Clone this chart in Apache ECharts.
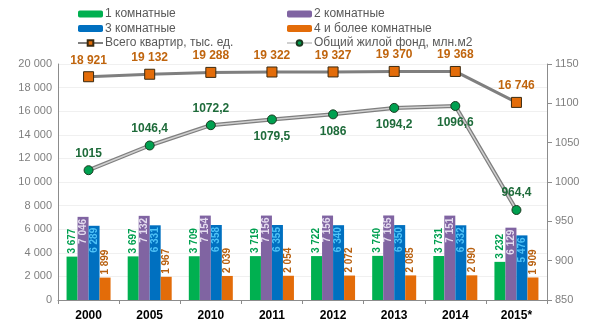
<!DOCTYPE html>
<html><head><meta charset="utf-8">
<script src="https://cdn.jsdelivr.net/npm/echarts@6/dist/echarts.min.js"></script>
<style>html,body{margin:0;padding:0;background:#fff}#c{width:609px;height:325px}</style>
</head><body><div id="c"></div>
<script>
var categories = ['2000','2005','2010','2011','2012','2013','2014','2015*'];
var rooms1 = [3677,3697,3709,3719,3722,3740,3731,3232];
var rooms2 = [7046,7132,7154,7156,7156,7165,7151,6129];
var rooms3 = [6289,6331,6358,6355,6340,6350,6332,5476];
var rooms4 = [1899,1967,2039,2054,2072,2085,2090,1909];
var totalFlats = [18921,19132,19288,19322,19327,19370,19368,16746];
var housingFund = [1015,1046.4,1072.2,1079.5,1086,1094.2,1096.6,964.4];
var fundLabelPos = ['top','top','top','bottom','bottom','bottom','bottom','top'];

function sp(v){ return String(v).replace(/\B(?=(\d{3})+(?!\d))/g,' '); }
function dec(v){ return String(v).replace('.',','); }

var font = 'Liberation Sans, Arial, sans-serif';
function barLabel(color, pos){
  return {show:true, rotate:90, position:pos, distance:pos==='top'?3:2, align: pos==='top'?'left':'right', verticalAlign:'middle',
    color:color, fontSize:10, fontWeight:'bold', fontFamily:font,
    formatter:function(p){return sp(p.value);}};
}
var chart = echarts.init(document.getElementById('c'), null, {renderer:'canvas'});
var fundData = housingFund.map(function(v,i){return {value:v, label:{position:fundLabelPos[i]}};});
chart.setOption({
  animation:false,
  textStyle:{fontFamily:font},
  legend:[
    {left:72, top:5, orient:'vertical', itemGap:2.5, itemWidth:25, itemHeight:7, padding:[3,5,3,5],
     textStyle:{color:'#595959', fontSize:12, padding:[0,0,0,-3]},
     data:['1 комнатные','3 комнатные','Всего квартир, тыс. ед.']},
    {left:281, top:5, orient:'vertical', itemGap:2.5, itemWidth:25, itemHeight:7, padding:[3,5,3,5],
     textStyle:{color:'#595959', fontSize:12, padding:[0,0,0,-3]},
     data:['2 комнатные','4 и более комнатные','Общий жилой фонд, млн.м2']}
  ],
  grid:{left:58, right:62, top:64, bottom:25},
  xAxis:{type:'category', data:categories,
    axisLine:{lineStyle:{color:'#8c8c8c'}},
    axisTick:{show:true, length:4, lineStyle:{color:'#8c8c8c'}},
    axisLabel:{color:'#000', fontSize:12, fontWeight:'bold', margin:10}},
  yAxis:[
    {type:'value', min:0, max:20000, interval:2000,
     axisLine:{show:true, lineStyle:{color:'#8c8c8c'}},
     axisTick:{show:false},
     splitLine:{lineStyle:{color:'#f0f0f0'}},
     axisLabel:{color:'#7f7f7f', fontSize:11, margin:6, formatter:function(v){return sp(v);}}},
    {type:'value', min:850, max:1150, interval:50, position:'right',
     axisLine:{show:true, lineStyle:{color:'#8c8c8c'}},
     axisTick:{show:true, inside:false, length:5, lineStyle:{color:'#8c8c8c'}},
     splitLine:{show:false},
     axisLabel:{color:'#7f7f7f', fontSize:11, margin:8, formatter:function(v){return String(v);}}}
  ],
  series:[
    {name:'1 комнатные', type:'bar', data:rooms1, barGap:'0%', barCategoryGap:'28%',
     itemStyle:{color:'#00b050'}, label:barLabel('#00a050','top')},
    {name:'2 комнатные', type:'bar', data:rooms2,
     itemStyle:{color:'#8064a2'}, label:barLabel('#e4dcef','insideTop')},
    {name:'3 комнатные', type:'bar', data:rooms3,
     itemStyle:{color:'#0070c0'}, label:barLabel('#4fc3f7','insideTop')},
    {name:'4 и более комнатные', type:'bar', data:rooms4,
     itemStyle:{color:'#e36c09'}, label:barLabel('#b8600f','top')},
    {name:'Всего квартир, тыс. ед.', type:'line', data:totalFlats, z:5,
     symbol:'rect', symbolSize:10,
     lineStyle:{color:'#7f7f7f', width:3},
     itemStyle:{color:'#e36c09', borderColor:'#3a2a10', borderWidth:1},
     label:{show:true, position:'top', distance:5, color:'#c0650e', fontSize:12, fontWeight:'bold',
       formatter:function(p){return sp(p.value);}}},
    {name:'Общий жилой фонд, млн.м2 bg', type:'line', yAxisIndex:1, data:housingFund, z:4,
     symbol:'none', lineStyle:{color:'#7f7f7f', width:4}, silent:true},
    {name:'Общий жилой фонд, млн.м2', type:'line', yAxisIndex:1, data:fundData, z:5,
     symbol:'circle', symbolSize:9,
     lineStyle:{color:'#d0d0d0', width:1.5},
     itemStyle:{color:'#00a050', borderColor:'#1a3a20', borderWidth:1},
     label:{show:true, distance:6, color:'#1e6b3a', fontSize:12, fontWeight:'bold',
       formatter:function(p){return dec(p.value);}}}
  ]
});
</script></body></html>
